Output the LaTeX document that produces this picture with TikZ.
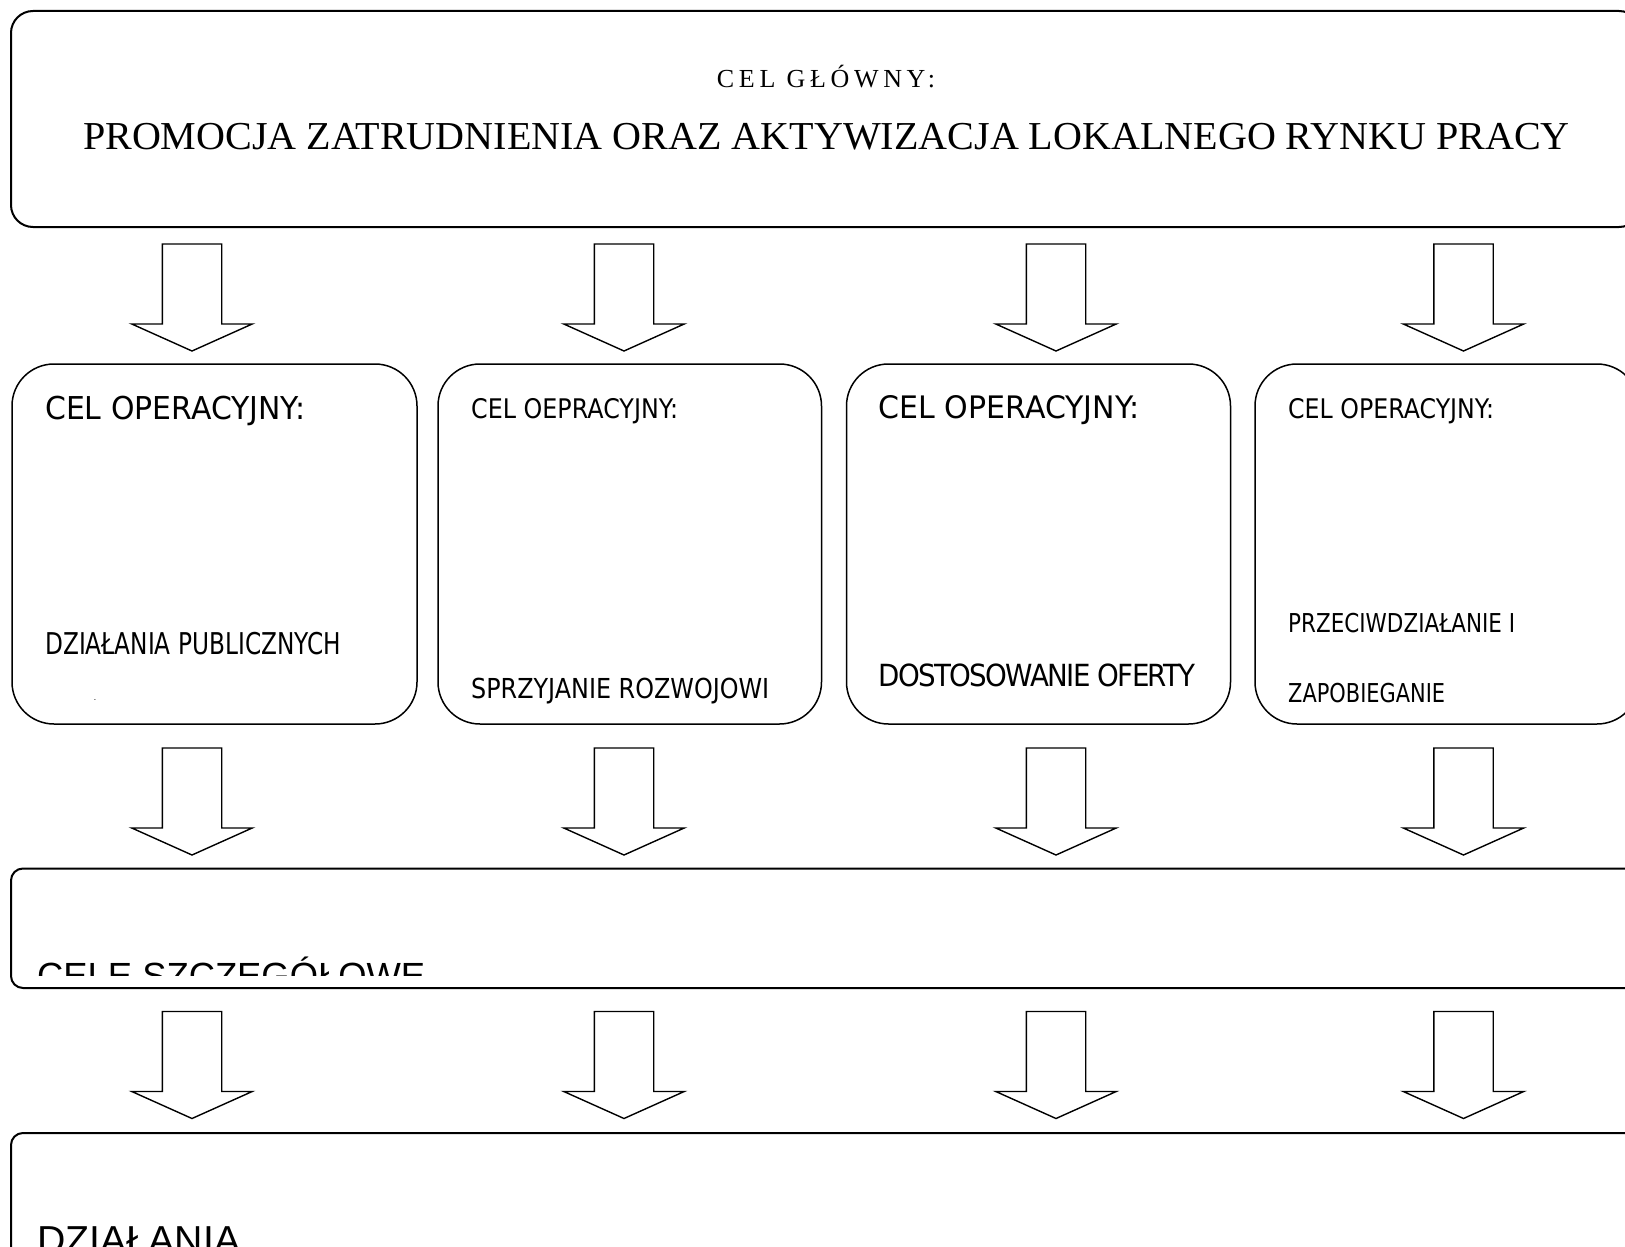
\documentclass[tikz,border=0pt]{standalone}
\usepackage{fontspec}
\usepackage{graphicx}
\newfontfamily\serifT{Liberation Serif}
\newfontfamily\serifLS[LetterSpace=18]{Liberation Serif}
\newfontfamily\tah{DejaVu Sans}
\newfontfamily\tahT[LetterSpace=-6]{DejaVu Sans}
\newfontfamily\ari{Liberation Sans}
\newsavebox\fitbox
\newcommand\fitw[2]{\sbox\fitbox{#2}\pgfmathsetmacro\fitratio{#1/\the\wd\fitbox}\scalebox{\fitratio}[1]{\usebox\fitbox}}
\tikzset{
  bigbox/.style={draw, line width=2, rounded corners=22, inner sep=0},
  opbox/.style={draw, line width=1.5, rounded corners=42, inner sep=0, minimum height=360},
  bandbox/.style={draw, line width=2, rounded corners=12, inner sep=0},
  arrowline/.style={draw, line width=1.4, line join=miter, fill=white},
  txt/.style={anchor=base west, inner sep=0},
  ctxt/.style={anchor=base, inner sep=0},
  blockarrow/.pic={\path[arrowline] (-29.7,0) -- (-29.7,80) -- (-60.2,80) -- (0,107) -- (60.2,80) -- (29.7,80) -- (29.7,0) -- cycle;}
}
\begin{document}
\begin{tikzpicture}[x=1pt,y=-1pt]
\useasboundingbox (0,0) rectangle (1625,1247);
\clip (0,0) rectangle (1625,1247);
\fill[white] (0,0) rectangle (1625,1247);
% boxes
\node[bigbox, minimum width=1630, minimum height=216] (main) at (826,119) {};
\node[opbox, minimum width=405] (op1) at (214.5,544) {};
\node[opbox, minimum width=383.5] (op2) at (629.75,544) {};
\node[opbox, minimum width=384] (op3) at (1038.5,544) {};
\node[opbox, minimum width=384] (op4) at (1447,544) {};
\node[bandbox, minimum width=1700, minimum height=119.5] (cele) at (861,928.25) {};
\node[bandbox, minimum width=1700, minimum height=200] (dzial) at (861,1233) {};
% arrows
\foreach \ax [count=\i] in {192,624,1056,1463.5}{
  \coordinate (r1a\i) at (\ax,244);
  \coordinate (r2a\i) at (\ax,748);
  \coordinate (r3a\i) at (\ax,1011.5);
  \pic at (r1a\i) {blockarrow};
  \pic at (r2a\i) {blockarrow};
  \pic at (r3a\i) {blockarrow};
}
% main texts
\node[ctxt] (t0) at (826,87.5) {\serifLS\fontsize{26}{30}\selectfont CEL GŁÓWNY:};
\node[ctxt] (t1) at (826.5,149) {\fitw{1487}{\serifT\fontsize{39.6}{44}\selectfont PROMOCJA ZATRUDNIENIA ORAZ AKTYWIZACJA LOKALNEGO RYNKU PRACY}};
% box 1
\node[txt] (h1) at (45,419) {\fitw{260}{\tah\fontsize{31.5}{36}\selectfont CEL OPERACYJNY:}};
\node[txt] (b1) at (45,654) {\fitw{296}{\tah\fontsize{30}{34}\selectfont DZIAŁANIA PUBLICZNYCH}};
\node[inner sep=0] (d1) at (95,701) {\tah\fontsize{6}{7}\selectfont -};
% box 2
\node[txt] (h2) at (471,418.3) {\fitw{207}{\tah\fontsize{27}{31}\selectfont CEL OEPRACYJNY:}};
\node[txt] (b2) at (471,698.5) {\fitw{298}{\tah\fontsize{27.5}{31}\selectfont SPRZYJANIE ROZWOJOWI}};
% box 3
\node[txt] (h3) at (878.5,418.3) {\fitw{261}{\tah\fontsize{31}{36}\selectfont CEL OPERACYJNY:}};
\node[txt] (b3) at (878.5,686) {\fitw{317}{\tahT\fontsize{30.5}{34}\selectfont DOSTOSOWANIE OFERTY}};
% box 4
\node[txt] (h4) at (1288,418.3) {\fitw{206}{\tah\fontsize{27}{31}\selectfont CEL OPERACYJNY:}};
\node[txt] (b4a) at (1288,632) {\fitw{227}{\tah\fontsize{26}{30}\selectfont PRZECIWDZIAŁANIE I}};
\node[txt] (b4b) at (1288,702) {\fitw{157}{\tah\fontsize{26}{30}\selectfont ZAPOBIEGANIE}};
% clipped band texts
\begin{scope}
  \clip (11,868) rectangle (1625,975);
  \node[txt] (ct) at (37,988) {\fitw{388}{\ari\fontsize{36.4}{40}\selectfont CELE SZCZEGÓŁOWE}};
\end{scope}
\node[txt] (dt) at (37,1253) {\fitw{203}{\ari\fontsize{39}{44}\selectfont DZIAŁANIA}};
\end{tikzpicture}
\end{document}
